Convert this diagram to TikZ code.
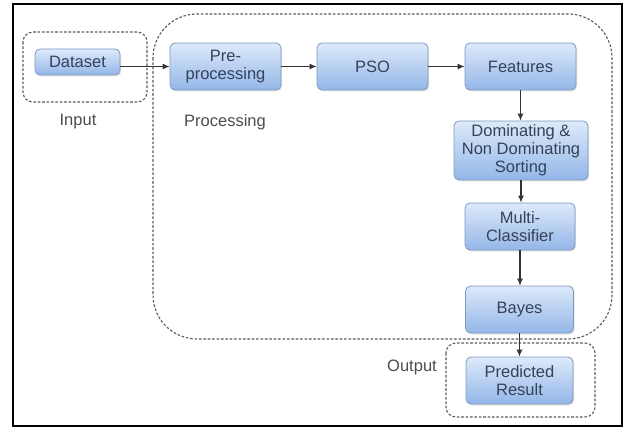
\documentclass[tikz,border=0pt]{standalone}
\usepackage{fontspec}
\setmainfont{Liberation Sans}
\usetikzlibrary{arrows.meta,shadows,calc}
\definecolor{boxtop}{HTML}{DDEAFA}
\definecolor{boxbot}{HTML}{93B6E8}
\definecolor{boxline}{HTML}{7F98BC}
\definecolor{txt}{HTML}{34425A}
\definecolor{dashc}{HTML}{5A5A5A}
\tikzset{
  blk/.style={draw=boxline, line width=0.8pt, rounded corners=5pt, top color=boxtop, bottom color=boxbot,
    text=txt, align=center, font=\fontsize{16.5}{18}\selectfont, inner sep=0pt,
    drop shadow={shadow xshift=1.2pt, shadow yshift=-1.5pt, fill=black!22}},
  grp/.style={draw=dashc, line width=1.1pt, dash pattern=on 2.6pt off 1.8pt},
  lbl/.style={text=black!70, font=\fontsize{16.5}{18}\selectfont},
  arr/.style={draw=black!80, line width=1.1pt, -{Latex[length=7pt,width=6pt]}}
}
\begin{document}
\begin{tikzpicture}[x=1pt,y=-1pt]
\useasboundingbox (0,0) rectangle (625,428);
\draw[line width=2pt] (13,4) rectangle (622,426);
% groups
\draw[grp, rounded corners=10pt] (23,32) rectangle (147,102);
\draw[grp, rounded corners=44pt] (153,14) rectangle (612,339);
\draw[grp, rounded corners=10pt] (446,343) rectangle (595,417);
% labels
\node[lbl] (lin) at (78,122) {Input};
\node[lbl] (lproc) at (225,122) {Processing};
\node[lbl] (lout) at (412,367) {Output};
% blocks
\node[blk, minimum width=85pt, minimum height=26pt] (ds) at (77.5,62) {Dataset};
\node[blk, minimum width=111pt, minimum height=47pt] (pre) at (225.5,66.5) {Pre-\\processing};
\node[blk, minimum width=111pt, minimum height=47pt] (pso) at (372.5,66.5) {PSO};
\node[blk, minimum width=111pt, minimum height=47pt] (feat) at (520.5,66.5) {Features};
\node[blk, minimum width=134pt, minimum height=59pt] (dom) at (521,150.5) {Dominating \&\\Non Dominating\\Sorting};
\node[blk, minimum width=110pt, minimum height=47pt] (multi) at (520,226.5) {Multi-\\Classifier};
\node[blk, minimum width=108pt, minimum height=47pt] (bayes) at (519.5,309.5) {Bayes};
\node[blk, minimum width=107pt, minimum height=47pt] (pred) at (519.5,380.5) {Predicted\\Result};
% arrows
\draw[arr] (ds.east |- pre.west) -- (pre.west);
\draw[arr] (pre.east) -- (pso.west);
\draw[arr] (pso.east) -- (feat.west);
\draw[arr] (feat.south) -- (feat.south |- dom.north);
\draw[arr] (dom.south) -- (dom.south |- multi.north);
\draw[arr] (multi.south) -- (multi.south |- bayes.north);
\draw[arr] (bayes.south) -- (bayes.south |- pred.north);
\end{tikzpicture}
\end{document}
